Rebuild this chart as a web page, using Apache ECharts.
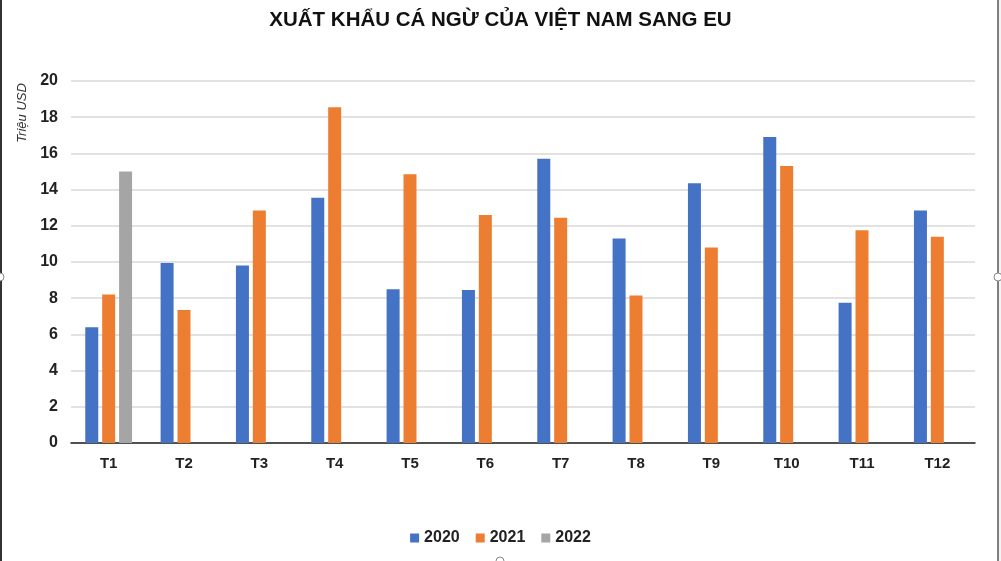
<!DOCTYPE html>
<html>
<head>
<meta charset="utf-8">
<script src="https://cdn.jsdelivr.net/npm/echarts@6/dist/echarts.min.js"></script>
<style>
  html, body { margin: 0; padding: 0; background: #fff; }
  #chart { width: 1001px; height: 561px; }
</style>
</head>
<body>
<div id="chart"></div>
<script>
// du lieu doc tu hinh (trieu USD)
var months = ['T1', 'T2', 'T3', 'T4', 'T5', 'T6', 'T7', 'T8', 'T9', 'T10', 'T11', 'T12'];
var y2020 = [6.4, 9.95, 9.8, 13.55, 8.5, 8.45, 15.7, 11.3, 14.35, 16.9, 7.75, 12.85];
var y2021 = [8.2, 7.35, 12.85, 18.55, 14.85, 12.6, 12.45, 8.15, 10.8, 15.3, 11.75, 11.4];
var y2022 = [15.0, null, null, null, null, null, null, null, null, null, null, null];

var myChart = echarts.init(document.getElementById('chart'));

var labelFont = 'Liberation Sans, Arial, sans-serif';

myChart.setOption({
    animation: false,
    color: ['#4472C4', '#ED7D31', '#A5A5A5'],
    title: {
        text: 'XUẤT KHẨU CÁ NGỪ CỦA VIỆT NAM SANG EU',
        left: 'center',
        top: 5,
        textStyle: {
            fontFamily: labelFont,
            fontSize: 20.5,
            fontWeight: 'bold',
            color: '#111'
        }
    },
    legend: {
        bottom: 10,
        left: 'center',
        itemWidth: 9,
        itemHeight: 9,
        itemGap: 16,
        icon: 'rect',
        textStyle: {
            fontFamily: labelFont,
            fontSize: 16,
            fontWeight: 'bold',
            color: '#222'
        },
        data: ['2020', '2021', '2022']
    },
    grid: {
        left: 71,
        right: 26,
        top: 81,
        bottom: 118
    },
    xAxis: {
        type: 'category',
        data: months,
        axisTick: { show: false },
        axisLine: { lineStyle: { color: '#222', width: 1.5 } },
        axisLabel: {
            margin: 13,
            fontFamily: labelFont,
            fontSize: 15,
            fontWeight: 'bold',
            color: '#222'
        }
    },
    yAxis: {
        type: 'value',
        min: 0,
        max: 20,
        interval: 2,
        axisLine: { show: false },
        axisTick: { show: false },
        splitLine: { lineStyle: { color: '#d9d9d9', width: 1.5 } },
        axisLabel: {
            margin: 13,
            fontFamily: labelFont,
            fontSize: 16,
            fontWeight: 'bold',
            color: '#222'
        }
    },
    graphic: [
        {   // ten truc y
            type: 'text',
            x: 22,
            y: 113,
            rotation: Math.PI / 2,
            style: {
                text: 'Triệu USD',
                fontFamily: labelFont,
                fontSize: 13,
                fontStyle: 'italic',
                fill: '#333',
                align: 'center',
                verticalAlign: 'middle'
            }
        },
        {   // khung vien
            type: 'line',
            shape: { x1: 1, y1: 0, x2: 1, y2: 561 },
            style: { stroke: '#333', lineWidth: 2 }
        },
        {
            type: 'rect',
            shape: { x: 999, y: 0, width: 2, height: 561 },
            style: { fill: '#f4f4f4' }
        },
        {
            type: 'line',
            shape: { x1: 998, y1: 0, x2: 998, y2: 561 },
            style: { stroke: '#555', lineWidth: 1.5 }
        },
        {
            type: 'circle',
            shape: { cx: 0, cy: 277, r: 4 },
            style: { fill: '#fff', stroke: '#888', lineWidth: 1 }
        },
        {
            type: 'circle',
            shape: { cx: 998, cy: 277, r: 4 },
            style: { fill: '#fff', stroke: '#888', lineWidth: 1 }
        },
        {
            type: 'circle',
            shape: { cx: 500, cy: 561, r: 4 },
            style: { fill: '#fff', stroke: '#888', lineWidth: 1 }
        }
    ],
    series: [
        {
            name: '2020',
            type: 'bar',
            barWidth: 13,
            barGap: '30%',
            data: y2020
        },
        {
            name: '2021',
            type: 'bar',
            barWidth: 13,
            barGap: '30%',
            data: y2021
        },
        {
            name: '2022',
            type: 'bar',
            barWidth: 13,
            barGap: '30%',
            data: y2022
        }
    ]
});
</script>
</body>
</html>
